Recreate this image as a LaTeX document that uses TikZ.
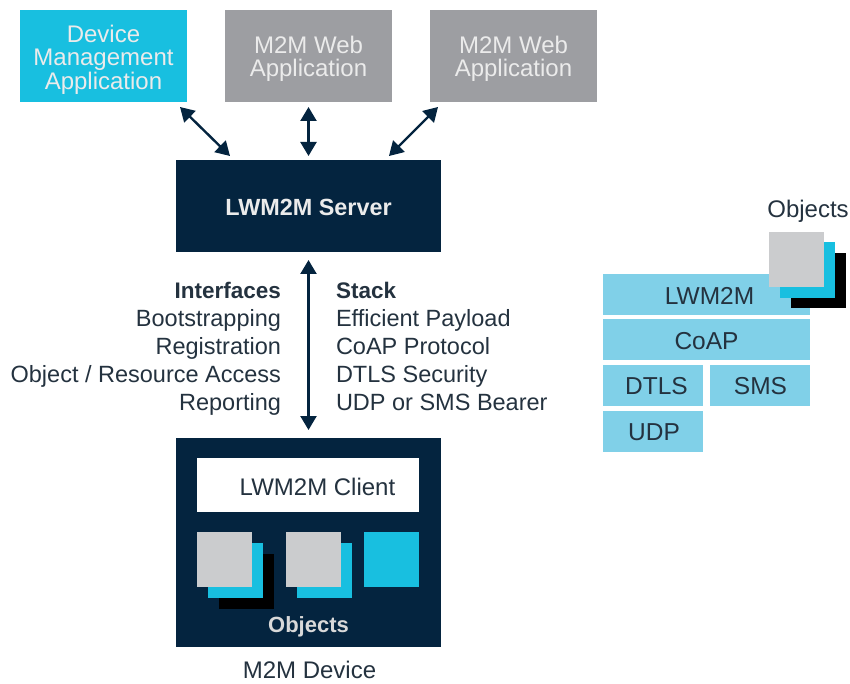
\documentclass[tikz,border=0pt]{standalone}
\usepackage{fontspec}
\setmainfont{Liberation Sans}
\usetikzlibrary{arrows.meta}
\definecolor{navy}{HTML}{04243F}
\definecolor{cyanbox}{HTML}{18BFE0}
\definecolor{graybox}{HTML}{9D9EA2}
\definecolor{lightgray}{HTML}{CBCCCE}
\definecolor{stackblue}{HTML}{80D0E8}
\definecolor{inktext}{HTML}{24323F}
\tikzset{
  box/.style={inner sep=0pt,outer sep=0pt,align=center,font=\fontsize{24}{23.5}\selectfont},
  app/.style={box,text=white!92!black,minimum width=167,minimum height=92},
  sq/.style={inner sep=0pt,outer sep=0pt,minimum width=55,minimum height=55},
  layer/.style={box,fill=stackblue,minimum height=41},
  layertext/.style={box,text=inktext,font=\fontsize{24.5}{24}\selectfont},
  label/.style={inner sep=0pt,outer sep=0pt,text=inktext,font=\fontsize{24}{28}\selectfont},
  listing/.style={label,font=\fontsize{23.5}{28}\selectfont},
  link/.style={draw=navy,line width=2.4pt,{Triangle[length=14pt,width=16pt]}-{Triangle[length=14pt,width=16pt]}}
}
\begin{document}
\begin{tikzpicture}[x=1pt,y=-1pt]
\useasboundingbox (0,0) rectangle (850,684);
% top applications
\node[app,fill=cyanbox] (dev) at (103.5,56) {};
\node[box,text=white!92!black] (devt) at (103.5,59.5) {Device\\Management\\Application};
\node[app,fill=graybox] (webA) at (308.5,56) {};
\node[box,text=white!92!black] (webAt) at (308.5,59) {M2M Web\\Application};
\node[app,fill=graybox] (webB) at (513.5,56) {};
\node[box,text=white!92!black] (webBt) at (513.5,59) {M2M Web\\Application};
% server
\node[box,fill=navy,minimum width=265,minimum height=92] (srv) at (308.5,206) {};
\node[box,text=white!92!black,font=\fontsize{23.4}{24}\selectfont\bfseries] (srvt) at (308.5,207.5) {LWM2M Server};
% device
\node[box,fill=navy,minimum width=265,minimum height=209] (m2m) at (308.5,542.5) {};
\node[box,fill=white,minimum width=222,minimum height=54] (cli) at (308,485) {};
\node[box,text=inktext] (clit) at (317.5,487) {LWM2M Client};
\node[sq,fill=black] (o1k) at (246.5,581.5) {};
\node[sq,fill=cyanbox] (o1c) at (235.5,570.5) {};
\node[sq,fill=lightgray] (o1g) at (224.5,559.5) {};
\node[sq,fill=cyanbox] (o2c) at (324.5,570.5) {};
\node[sq,fill=lightgray] (o2g) at (313.5,559.5) {};
\node[sq,fill=cyanbox] (o3c) at (391.5,559.5) {};
\node[box,text=white!85!black,font=\fontsize{22}{24}\selectfont\bfseries] (objs) at (308.5,627) {Objects};
\node[label] (devlab) at (309.5,670) {M2M Device};
% connectors
\draw[link] ([xshift=-7pt,yshift=-5pt]dev.south east) -- ([xshift=54pt,yshift=4pt]srv.north west);
\draw[link] ([yshift=-5pt]webA.south) -- ([yshift=4pt]srv.north);
\draw[link] ([xshift=8pt,yshift=-5pt]webB.south west) -- ([xshift=-52pt,yshift=4pt]srv.north east);
\draw[link] ([yshift=-8pt]srv.south) -- ([yshift=8pt]m2m.north);
% interface and stack lists
\node[listing,anchor=east,align=right] (ifs) at (281,348.5) {{\fontsize{22.5}{28}\selectfont\textbf{Interfaces}}\\Bootstrapping\\Registration\\Object / Resource Access\\Reporting};
\node[listing,anchor=west,align=left] (stk) at (336,346) {{\fontsize{22.5}{28}\selectfont\textbf{Stack}}\\Efficient Payload\\CoAP Protocol\\DTLS Security\\UDP or SMS Bearer};
% stack diagram
\node[layer,minimum width=207] (lw) at (706.5,294.5) {};
\node[layertext] (lwt) at (709.5,295.5) {LWM2M};
\node[layer,minimum width=207] (coap) at (706.5,339.5) {};
\node[layertext] (coapt) at (706.5,341) {CoAP};
\node[layer,minimum width=100] (dtls) at (653,385) {};
\node[layertext] (dtlst) at (656.5,386) {DTLS};
\node[layer,minimum width=100] (sms) at (760,385) {};
\node[layertext] (smst) at (760.5,386) {SMS};
\node[layer,minimum width=100] (udp) at (653,431.5) {};
\node[layertext] (udpt) at (654,432.5) {UDP};
\node[sq,fill=black] (s1k) at (818.5,280.5) {};
\node[sq,fill=cyanbox] (s1c) at (807.5,270) {};
\node[sq,fill=lightgray] (s1g) at (796.5,259.5) {};
\node[label] (objlab) at (808,211) {Objects};
\end{tikzpicture}
\end{document}
